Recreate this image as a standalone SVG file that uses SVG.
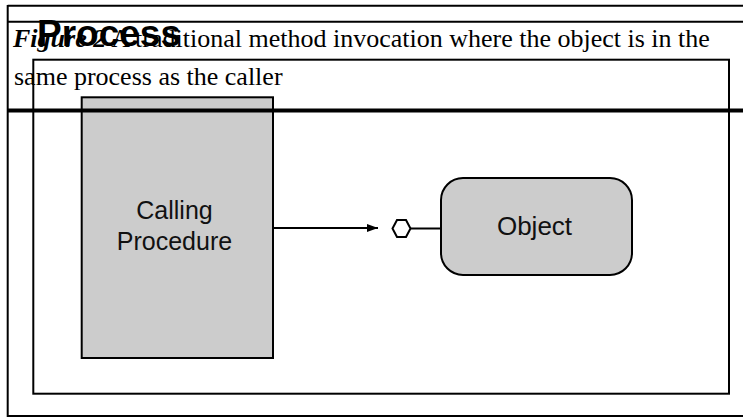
<svg xmlns="http://www.w3.org/2000/svg" width="743" height="418" viewBox="0 0 743 418">
<style>
.frame{fill:none;stroke:#000;stroke-width:2}
.box{fill:#cccccc;stroke:#000;stroke-width:2}
.cap{font-family:"Liberation Serif","Times New Roman",serif;font-size:26px;fill:#000}
.lbl{font-family:"Liberation Sans",Arial,sans-serif;font-size:25px;fill:#111;text-anchor:middle}
.title{font-family:"Liberation Sans",Arial,sans-serif;font-size:37px;font-weight:bold;fill:#000}
.conn{fill:none;stroke:#000;stroke-width:2}
</style>
<defs>
<marker id="arrow" markerWidth="12" markerHeight="10" refX="11" refY="5" orient="auto" markerUnits="userSpaceOnUse">
<path d="M0,1 L11,5 L0,9 Z" fill="#000"/>
</marker>
</defs>
<rect width="743" height="418" fill="#fff"/>
<g id="page-frame">
<line class="frame" x1="7.7" y1="5.7" x2="743" y2="5.7"/>
<line class="frame" x1="7.7" y1="21.7" x2="743" y2="21.7"/>
<line class="frame" x1="7.7" y1="5" x2="7.7" y2="417"/>
<line class="frame" x1="7.7" y1="416" x2="743" y2="416"/>
</g>
<g id="caption">
<text class="cap" x="13" y="47"><tspan font-weight="bold" font-style="italic">Figure 2</tspan> A traditional method invocation where the object is in the</text>
<text class="cap" x="14" y="85">same process as the caller</text>
</g>
<g id="process">
<rect class="frame" x="33.3" y="59.7" width="695.7" height="334"/>
<text class="title" x="37" y="46">Process</text>
</g>
<g id="calling-procedure">
<rect class="box" x="81.7" y="97.3" width="191.3" height="260.7"/>
<text class="lbl" x="174.5" y="219">Calling</text>
<text class="lbl" x="174.5" y="250">Procedure</text>
</g>
<line x1="7.7" y1="110.5" x2="743" y2="110.5" stroke="#000" stroke-width="4"/>
<g id="interface">
<polygon points="392.5,228.5 397,220 406,220 410.5,228.5 406,237 397,237" fill="#fff" stroke="#000" stroke-width="2"/>
</g>
<g id="object">
<rect class="box" x="441" y="178" width="191" height="97" rx="22" ry="22"/>
<text class="lbl" x="534.5" y="235" style="font-size:26px">Object</text>
</g>
<g id="connectors">
<line class="conn" x1="273" y1="228" x2="378" y2="228" marker-end="url(#arrow)"/>
<line class="conn" x1="410.5" y1="228.5" x2="441" y2="228.5"/>
</g>
</svg>
